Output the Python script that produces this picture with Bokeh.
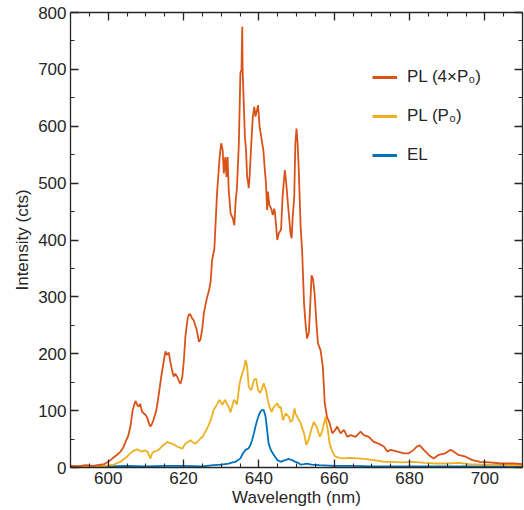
from bokeh.plotting import figure
from bokeh.models import Range1d, LinearAxis, SingleIntervalTicker, Legend, LegendItem
from bokeh.embed import file_html
from bokeh.resources import INLINE

# ---- data ----
pl4_wl = [590, 592, 594, 596, 598, 599, 600, 600.6, 601.5, 602.3, 603.3, 604, 604.6, 605.3, 605.9,
          606.5, 607, 607.3, 607.7, 608.1, 608.5, 609, 609.5, 610, 610.5, 610.8, 611.2, 611.6, 612,
          612.4, 612.8, 613.4, 614.1, 614.8, 615.2, 615.6, 616.1, 616.5, 617, 617.4, 617.8, 618.3,
          618.8, 619.2, 619.7, 620.1, 620.5, 621.1, 621.5, 621.9, 622.3, 622.7, 623.1, 623.4, 623.8,
          624.1, 624.5, 625, 625.4, 625.8, 626.3, 626.8, 627.2, 627.6, 628.2, 628.9, 629.6, 630,
          630.4, 630.7, 631.1, 631.4, 631.7, 632, 632.5, 633.1, 633.5, 633.8, 634.2, 634.7, 635.1,
          635.4, 635.6, 635.7, 636, 636.3, 636.6, 636.9, 637.2, 637.3, 637.5, 638, 638.4, 638.8,
          639.1, 639.5, 639.8, 640.2, 640.5, 640.9, 641.2, 641.6, 641.9, 642.2, 642.4, 642.8, 643.3,
          643.7, 644.1, 644.3, 644.9, 645.3, 645.9, 646.3, 646.9, 647.2, 647.8, 648.4, 648.7, 649,
          649.4, 649.7, 650, 650.3, 650.6, 651.1, 651.5, 652, 652.4, 652.8, 653.3, 653.7, 654,
          654.4, 654.8, 655.3, 655.7, 656.4, 657, 657.5, 658.1, 658.8, 659.5, 660.3, 660.8, 661.7,
          662.6, 663.5, 664.4, 665.7, 667, 667.9, 669.2, 670.5, 671.8, 673.2, 674.1, 675, 676.8,
          678.5, 679.8, 681.1, 682, 682.7, 683.8, 685.1, 686.4, 687.7, 689.5, 690.9, 691.7, 693,
          694.9, 696.7, 698.8, 701.5, 704.2, 707.7, 710]
pl4_int = [3, 2, 4, 3, 5, 6, 10, 13, 18, 22, 28, 35, 45, 55, 72,
           101, 112, 117, 110, 107, 112, 98, 95, 92, 85, 78, 72, 76, 83,
           92, 101, 127, 160, 189, 204, 198, 202, 186, 170, 160, 165, 160,
           152, 147, 160, 189, 230, 262, 270, 268, 262, 259, 250, 245, 232,
           221, 225, 245, 271, 285, 300, 312, 327, 365, 385, 482, 546, 570,
           558, 517, 546, 511, 546, 488, 447, 438, 426, 464, 493, 570, 693,
           700, 775, 699, 640, 581, 558, 511, 499, 491, 505, 570, 617, 634,
           617, 628, 637, 599, 587, 570, 558, 523, 499, 453, 485, 461, 455,
           444, 455, 447, 400, 412, 418, 476, 523, 505, 458, 412, 403, 441,
           476, 570, 596, 570, 523, 423, 380, 289, 253, 227, 238, 294, 338,
           331, 306, 253, 218, 206, 177, 113, 89, 78, 60, 66, 72, 60,
           66, 54, 57, 54, 63, 57, 54, 45, 42, 37, 28, 31, 28,
           25, 25, 31, 37, 39, 31, 22, 16, 22, 25, 31, 28, 22,
           19, 13, 10, 9, 7, 7, 6]

pl1_wl = [590, 593, 596, 598, 599.7, 600.5, 601.5, 602.4, 603.3, 604.2, 605, 605.7, 606.4, 607,
          607.7, 608.3, 609, 609.7, 610.4, 610.8, 611.2, 611.6, 612.1, 612.7, 613.4, 614.1, 614.8,
          615.7, 616.3, 617, 617.6, 618.3, 619, 619.7, 620.1, 620.5, 621.2, 621.9, 622.5, 623.2,
          623.8, 624.5, 625.2, 625.8, 626.5, 627.2, 628, 628.9, 629.6, 630.3, 630.7, 631.1, 631.5,
          632, 632.5, 633, 633.4, 634.2, 634.9, 635.6, 636.1, 636.5, 636.9, 637.3, 638, 638.7,
          639.3, 639.8, 640.4, 640.9, 641.3, 641.9, 642.4, 642.8, 643.4, 644, 644.5, 644.9, 645.4,
          645.8, 646.4, 647.1, 648, 648.4, 648.9, 649.5, 649.7, 650.2, 651.1, 652, 652.6, 653.2,
          653.9, 654.6, 655.3, 656.2, 656.8, 657.7, 658.3, 658.8, 659.5, 660.3, 661.5, 662.6, 664,
          666.1, 668, 669.6, 671.5, 673.2, 675, 678, 681, 684, 687, 690, 693, 696, 700, 703, 706, 710]
pl1_int = [2, 3, 2, 3, 3, 4, 5, 8, 10, 15, 19, 24, 28, 30,
           32, 30, 28, 30, 28, 22, 16, 24, 28, 29, 31, 36, 40,
           45, 43, 42, 40, 37, 35, 33, 38, 42, 45, 48, 44, 42,
           46, 51, 55, 63, 72, 83, 101, 111, 119, 110, 115, 119, 112,
           107, 97, 110, 119, 111, 148, 166, 175, 189, 178, 142, 136, 154,
           156, 136, 131, 140, 148, 136, 118, 107, 98, 107, 110, 113, 105,
           107, 83, 95, 89, 80, 83, 104, 95, 89, 78, 60, 40, 48,
           66, 80, 72, 54, 63, 89, 66, 42, 28, 19, 17, 16, 17,
           16, 15, 14, 12, 10, 10, 9, 10, 8, 7, 7, 8, 6, 5, 5, 4, 4]

el_wl = [590, 595, 600, 605, 610, 615, 620, 625, 628, 630, 632, 633, 633.8, 634.5, 635.1, 635.8,
         636.5, 637.3, 637.8, 638.2, 638.7, 639.1, 639.6, 640, 640.4, 640.8, 641.3, 641.8, 642.3,
         642.6, 643, 643.4, 644.3, 644.9, 645.8, 646.5, 647.1, 647.8, 648.4, 649.1, 649.7, 650.5,
         651.1, 652, 652.8, 654, 656, 660, 665, 670, 680, 690, 700, 710]
el_int = [1, 2, 2, 3, 2, 3, 3, 2, 4, 5, 7, 9, 10, 13, 16, 25,
          31, 34, 40, 48, 60, 72, 84, 92, 98, 101, 101, 89, 60,
          42, 34, 28, 19, 13, 10, 12, 13, 15, 14, 12, 10, 8,
          5, 6, 7, 5, 4, 3, 3, 2, 2, 2, 2, 2]

labels = ["PL (4\u00d7P\u2080)", "PL (P\u2080)", "EL"]
colors = ["#D95319", "#EDB120", "#0072BD"]

TXT = "#262626"
FONT = "Liberation Sans"
NAN = float("nan")

p = figure(width=524, height=510, x_range=Range1d(590, 710), y_range=Range1d(0, 800),
           output_backend="svg", toolbar_location=None,
           min_border_left=70, min_border_right=2, min_border_top=12, min_border_bottom=43,
           x_axis_label="Wavelength (nm)", y_axis_label="Intensity (cts)")
p.xgrid.visible = False
p.ygrid.visible = False
p.outline_line_color = None
p.background_fill_color = "white"
p.border_fill_color = "white"

r_el = p.line(el_wl, el_int, line_color=colors[2], line_width=1.8)
r_p1 = p.line(pl1_wl, pl1_int, line_color=colors[1], line_width=1.8)
r_p4 = p.line(pl4_wl, pl4_int, line_color=colors[0], line_width=1.8)

# legend-only glyphs (thicker sample lines, nothing drawn in the plot)
l4 = p.line([NAN], [NAN], line_color=colors[0], line_width=3)
l1 = p.line([NAN], [NAN], line_color=colors[1], line_width=3)
le = p.line([NAN], [NAN], line_color=colors[2], line_width=3)

p.add_layout(LinearAxis(), "above")
p.add_layout(LinearAxis(), "right")

def style(ax, xaxis, show_labels):
    ax.ticker = SingleIntervalTicker(interval=20, num_minor_ticks=4) if xaxis else \
        SingleIntervalTicker(interval=100, num_minor_ticks=2)
    ax.axis_line_color = TXT
    ax.axis_line_width = 1.3
    ax.major_tick_line_color = TXT
    ax.minor_tick_line_color = TXT
    ax.major_tick_line_width = 1.3
    ax.minor_tick_line_width = 1.1
    ax.major_tick_in = 8
    ax.major_tick_out = 0
    ax.minor_tick_in = 4
    ax.minor_tick_out = 0
    ax.major_label_text_font = FONT
    if show_labels:
        ax.major_label_text_color = TXT
        ax.major_label_text_font_size = "17px"
        ax.major_label_standoff = 4
        ax.axis_label_text_font = FONT
        ax.axis_label_text_font_size = "17px"
        ax.axis_label_text_font_style = "normal"
        ax.axis_label_text_color = TXT
        ax.axis_label_standoff = 1 if xaxis else 3
    else:
        ax.major_label_text_color = None
        ax.major_label_text_font_size = "1px"
        ax.major_label_standoff = 0

style(p.below[0], True, True)
style(p.left[0], False, True)
style(p.above[0], True, False)
style(p.right[0], False, False)

legend = Legend(items=[LegendItem(label=labels[0], renderers=[l4]),
                       LegendItem(label=labels[1], renderers=[l1]),
                       LegendItem(label=labels[2], renderers=[le])],
                location=(302, 302), padding=0, margin=0, spacing=19,
                glyph_width=25, glyph_height=20, label_height=20, label_standoff=10,
                label_text_font=FONT, label_text_font_size="17px", label_text_color=TXT,
                border_line_color=None, background_fill_alpha=0)
p.add_layout(legend, "center")

open("out.html", "w").write(file_html(p, INLINE))
